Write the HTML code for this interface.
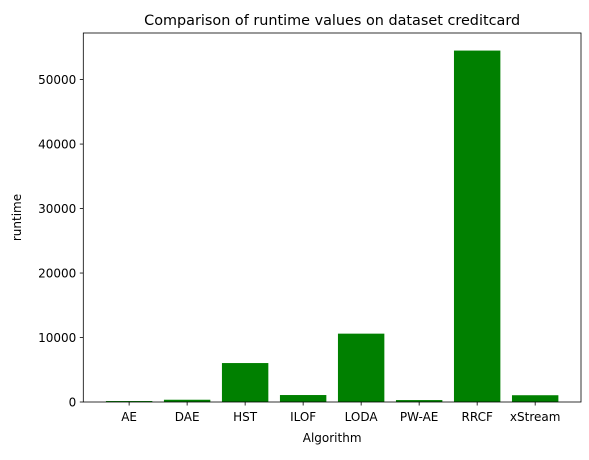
<!DOCTYPE html>
<html><head><meta charset="utf-8"><style>
body{margin:0;background:#fff;font-family:"Liberation Sans","DejaVu Sans",sans-serif}
svg text{font-family:"DejaVu Sans","Liberation Sans",sans-serif;font-size:12px;fill:#000}
</style></head><body>
<svg id="c" width="589" height="455"></svg>
<script>
const categories=["AE","DAE","HST","ILOF","LODA","PW-AE","RRCF","xStream"];
const runtimes=[150,350,6040,1080,10600,300,54500,1050];
const yTicks=[0,10000,20000,30000,40000,50000];
const L=83.3,R=581,T=33,B=402;
const yMax=Math.max(...runtimes)*1.05;
const xMin=-0.79,xMax=categories.length-1+0.79;
const xs=i=>L+(i-xMin)/(xMax-xMin)*(R-L);
const ys=v=>B-v/yMax*(B-T);
const unit=(R-L)/(xMax-xMin);
const svg=document.getElementById('c');const NS="http://www.w3.org/2000/svg";
function mk(t,a,txt){const e=document.createElementNS(NS,t);for(const k in a)e.setAttribute(k,a[k]);if(txt!=null)e.textContent=txt;svg.appendChild(e);return e;}
categories.forEach((c,i)=>{
 const b=mk('rect',{x:xs(i)-0.4*unit,y:ys(runtimes[i]),width:0.8*unit,height:B-ys(runtimes[i]),fill:'#008000'});
 
 
 mk('line',{x1:xs(i),x2:xs(i),y1:B,y2:B+3.5,stroke:'#000','stroke-width':0.8});
 const t=mk('text',{x:xs(i),y:B+19,'text-anchor':'middle'},c);
 
 
});
yTicks.forEach(v=>{
 mk('line',{x1:L-3.5,x2:L,y1:ys(v),y2:ys(v),stroke:'#000','stroke-width':0.8});
 const t=mk('text',{x:L-7,y:ys(v)+4.5,'text-anchor':'end'},String(v));
 
 
});
const f=mk('rect',{x:L,y:T,width:R-L,height:B-T,fill:'none',stroke:'#000','stroke-width':0.8});


const tt=mk('text',{x:(L+R)/2,y:T-8,'text-anchor':'middle',style:'font-size:14.4px'},'Comparison of runtime values on dataset creditcard');


const xl=mk('text',{x:(L+R)/2,y:442,'text-anchor':'middle'},'Algorithm');


const yl=mk('text',{x:21,y:(T+B)/2,'text-anchor':'middle',transform:'rotate(-90 21 '+((T+B)/2)+')'},'runtime');


</script>
</body></html>
